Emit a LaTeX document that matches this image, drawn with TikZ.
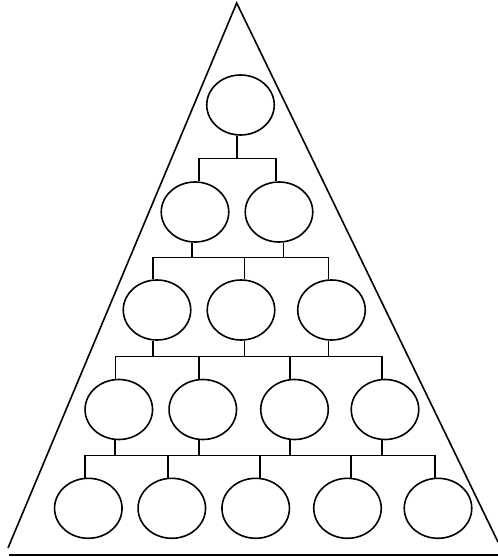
\documentclass[tikz,border=0pt]{standalone}
\usetikzlibrary{shapes.geometric}
\begin{document}
\begin{tikzpicture}[x=1pt,y=-1pt,line width=1.6pt,
  oval/.style={draw,ellipse,inner sep=0pt,minimum width=67.5pt,minimum height=60pt}]
\useasboundingbox (0,0) rectangle (498,557);
% triangle
\coordinate (apex) at (236.7,3);
\coordinate (tl) at (8,548);
\coordinate (tr) at (498,542);
\coordinate (bl) at (9,555);
\coordinate (br) at (498,555);
\draw (tl) -- (apex) -- (tr);
\draw (bl) -- (br);
% ovals
\node[oval] (r1)  at (240.5,105) {};
\node[oval] (r2a) at (195,212) {};
\node[oval] (r2b) at (279,212) {};
\node[oval] (r3a) at (157,310) {};
\node[oval] (r3b) at (241,310) {};
\node[oval] (r3c) at (331.5,310) {};
\node[oval] (r4a) at (118.8,409.5) {};
\node[oval] (r4b) at (202.8,409.5) {};
\node[oval] (r4c) at (294.5,409.5) {};
\node[oval] (r4d) at (385,409.5) {};
\node[oval] (r5a) at (88.3,508.3) {};
\node[oval] (r5b) at (171.8,508.3) {};
\node[oval] (r5c) at (255.7,508.3) {};
\node[oval] (r5d) at (347.5,508.3) {};
\node[oval] (r5e) at (438,508.3) {};
% bar levels
\coordinate (b1) at (0,158.5);
\coordinate (b2) at (0,257.5);
\coordinate (b3) at (0,356.5);
\coordinate (b4) at (0,455.5);
% stem ends on the ovals
\coordinate (d1)  at ([xshift=-3.8pt]r1.south);
\coordinate (u2a) at ([xshift=4pt]r2a.north);
\coordinate (u2b) at ([xshift=-3pt]r2b.north);
\coordinate (d2a) at ([xshift=-3.3pt]r2a.south);
\coordinate (d2b) at ([xshift=4.3pt]r2b.south);
\coordinate (u3a) at ([xshift=-4.3pt]r3a.north);
\coordinate (u3b) at ([xshift=3.5pt]r3b.north);
\coordinate (u3c) at ([xshift=-3.2pt]r3c.north);
\coordinate (d3a) at ([xshift=-4pt]r3a.south);
\coordinate (d3b) at ([xshift=3.5pt]r3b.south);
\coordinate (d3c) at ([xshift=-3.2pt]r3c.south);
\coordinate (u4a) at ([xshift=-3.3pt]r4a.north);
\coordinate (u4b) at ([xshift=-3.8pt]r4b.north);
\coordinate (u4c) at ([xshift=-4.5pt]r4c.north);
\coordinate (u4d) at ([xshift=-3.3pt]r4d.north);
\coordinate (d4a) at ([xshift=-3.8pt]r4a.south);
\coordinate (d4b) at ([xshift=-4pt]r4b.south);
\coordinate (d4c) at ([xshift=-4.5pt]r4c.south);
\coordinate (d4d) at ([xshift=-3.3pt]r4d.south);
\coordinate (u5a) at ([xshift=-3.3pt]r5a.north);
\coordinate (u5b) at ([xshift=-3.8pt]r5b.north);
\coordinate (u5c) at ([xshift=4.3pt]r5c.north);
\coordinate (u5d) at ([xshift=3.5pt]r5d.north);
\coordinate (u5e) at ([xshift=-3.3pt]r5e.north);
% level 1 -> 2
\draw (d1) -- (d1 |- b1);
\draw (u2a) |- (u2b |- b1) -- (u2b);
% level 2 -> 3
\draw (d2a) -- (d2a |- b2);
\draw (d2b) -- (d2b |- b2);
\draw (u3a) |- (u3c |- b2) -- (u3c);
\draw (u3b) -- (u3b |- b2);
% level 3 -> 4
\draw (d3a) -- (d3a |- b3);
\draw (d3b) -- (d3b |- b3);
\draw (d3c) -- (d3c |- b3);
\draw (u4a) |- (u4d |- b3) -- (u4d);
\draw (u4b) -- (u4b |- b3);
\draw (u4c) -- (u4c |- b3);
% level 4 -> 5
\draw (d4a) -- (d4a |- b4);
\draw (d4b) -- (d4b |- b4);
\draw (d4c) -- (d4c |- b4);
\draw (d4d) -- (d4d |- b4);
\draw (u5a) |- (u5e |- b4) -- (u5e);
\draw (u5b) -- (u5b |- b4);
\draw (u5c) -- (u5c |- b4);
\draw (u5d) -- (u5d |- b4);
\end{tikzpicture}
\end{document}
